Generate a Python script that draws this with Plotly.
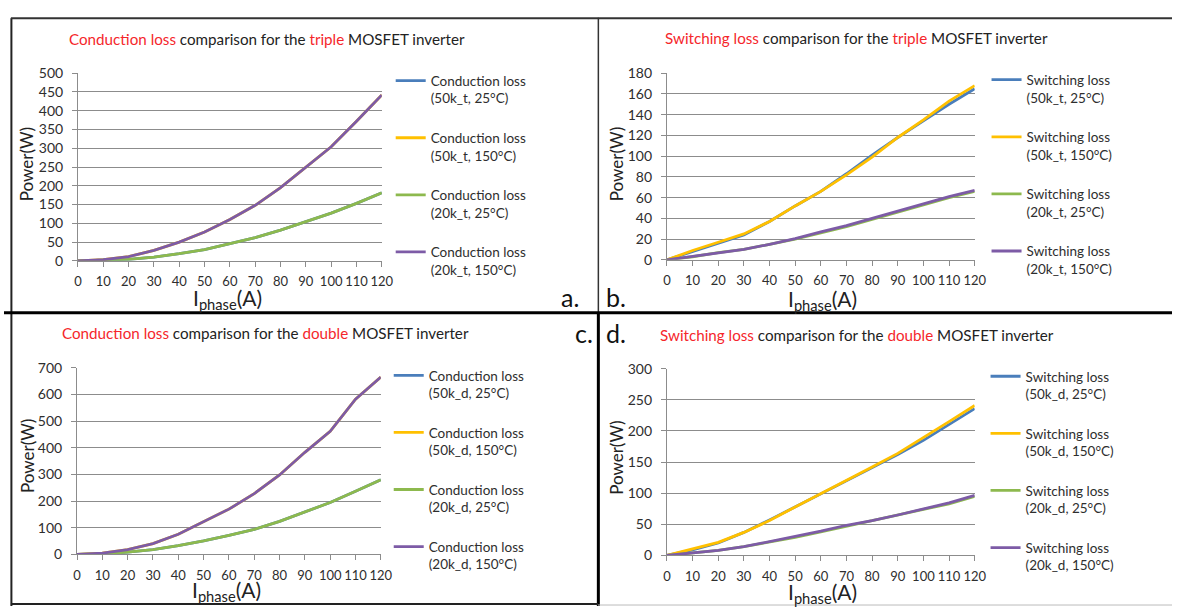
import plotly.graph_objects as go

# ---------------- data ----------------
I_PHASE = [0, 10, 20, 30, 40, 50, 60, 70, 80, 90, 100, 110, 120]

# a. conduction loss, triple MOSFET inverter
cond_t_50k_25 = [0, 1, 4, 10, 19, 30, 45, 62, 82, 104, 127, 153, 181]
cond_t_50k_150 = [0, 3, 11, 28, 50, 77, 110, 148, 195, 250, 304, 372, 442]
cond_t_20k_25 = [0, 1, 4, 10, 19, 30, 45, 62, 82, 104, 127, 153, 181]
cond_t_20k_150 = [0, 3, 11, 28, 50, 77, 110, 148, 195, 250, 304, 372, 442]

# b. switching loss, triple MOSFET inverter
sw_t_50k_25 = [0, 8, 16, 24, 37, 52, 66, 83, 101, 118, 134, 150, 165]
sw_t_50k_150 = [0, 9, 17, 25, 37, 52, 66, 82, 99, 118, 135, 153, 168]
sw_t_20k_25 = [0, 3, 7, 10, 15, 20, 26, 32, 39, 46, 53, 60, 66]
sw_t_20k_150 = [0, 3.5, 7, 10, 15, 20.5, 27, 33, 40, 47, 54, 61, 67]

# c. conduction loss, double MOSFET inverter
cond_d_50k_25 = [0, 2.5, 9, 18, 33, 51, 72, 94, 124, 159, 195, 237, 280]
cond_d_50k_150 = [0, 5, 18, 41, 76, 122, 170, 228, 298, 383, 462, 582, 665]
cond_d_20k_25 = [0, 2.5, 9, 18, 33, 51, 72, 94, 124, 159, 195, 237, 280]
cond_d_20k_150 = [0, 5, 18, 41, 76, 122, 170, 228, 298, 383, 462, 582, 665]

# d. switching loss, double MOSFET inverter
sw_d_50k_25 = [0, 9, 20, 37, 57, 78, 99, 120, 140, 162, 185, 211, 236]
sw_d_50k_150 = [0, 10, 21, 37, 56, 78, 99, 121, 142, 164, 189, 215, 241]
sw_d_20k_25 = [0, 4, 8, 14, 21, 29, 38, 47, 55, 64, 73, 83, 95]
sw_d_20k_150 = [0, 4, 8, 14, 22, 30, 39, 48.5, 56, 65, 74.5, 84.5, 96.5]

SERIES_COLORS = ["#4A7EBB", "#FFC000", "#8DB94E", "#7D5BA6"]

W, H = 1184, 614
FONT = "Lato"
TXT = "#2E2E2E"
RED = "#F5262B"


def px(x):
    return x / W


def py(y):
    return 1 - y / H


panels = [
    dict(name="Conduction loss", kind="triple", tag="t",
         data=[cond_t_50k_25, cond_t_50k_150, cond_t_20k_25, cond_t_20k_150],
         ymax=500, dtick=50, box=(75, 383, 66, 259), title_xy=(267, 31),
         ytitle_xy=(23, 160), xtitle_xy=(227, 298), leg_xy=(392, 58)),
    dict(name="Switching loss", kind="triple", tag="t",
         data=[sw_t_50k_25, sw_t_50k_150, sw_t_20k_25, sw_t_20k_150],
         ymax=180, dtick=20, box=(672, 984, 66, 258), title_xy=(864, 30),
         ytitle_xy=(621, 160), xtitle_xy=(830, 299), leg_xy=(996, 57)),
    dict(name="Conduction loss", kind="double", tag="d",
         data=[cond_d_50k_25, cond_d_50k_150, cond_d_20k_25, cond_d_20k_150],
         ymax=700, dtick=100, box=(74, 382, 369, 561), title_xy=(265, 333),
         ytitle_xy=(24, 460), xtitle_xy=(226, 599), leg_xy=(390, 361)),
    dict(name="Switching loss", kind="double", tag="d",
         data=[sw_d_50k_25, sw_d_50k_150, sw_d_20k_25, sw_d_20k_150],
         ymax=300, dtick=50, box=(672, 984, 370, 562), title_xy=(865, 335),
         ytitle_xy=(621, 462), xtitle_xy=(830, 601), leg_xy=(995, 362)),
]

LABELS = ["50k_{t}, 25°C", "50k_{t}, 150°C", "20k_{t}, 25°C", "20k_{t}, 150°C"]

fig = go.Figure()
layout = dict(
    width=W, height=H, margin=dict(l=0, r=0, t=0, b=0),
    paper_bgcolor="white", plot_bgcolor="white",
    font=dict(family=FONT, color=TXT),
    showlegend=True,
)
annotations = []

for i, p in enumerate(panels):
    n = "" if i == 0 else str(i + 1)
    xa, ya = "x" + n, "y" + n
    leg = "legend" + n
    x0, x1, yt, yb = p["box"]
    for j, vals in enumerate(p["data"]):
        lab = p["name"] + "<br>(" + LABELS[j].replace("{t}", p["tag"]) + ")"
        fig.add_trace(go.Scatter(
            x=I_PHASE, y=vals, mode="lines", name=lab,
            line=dict(color=SERIES_COLORS[j], width=2.8),
            xaxis=xa, yaxis=ya, legend=leg, legendgroup=f"g{i}_{j}",
            hoverinfo="skip",
        ))
    layout["xaxis" + n] = dict(
        domain=[px(x0), px(x1)], range=[0, 120], tick0=0, dtick=10,
        anchor=ya, showline=True, linecolor="#8C8C8C", linewidth=1,
        ticks="outside", ticklen=5, tickcolor="#8C8C8C", showgrid=False,
        zeroline=False, ticklabelstandoff=4,
        tickfont=dict(family=FONT, size=13, color=TXT), fixedrange=True,
    )
    layout["yaxis" + n] = dict(
        domain=[py(yb), py(yt)], range=[0, p["ymax"]], tick0=0, dtick=p["dtick"],
        anchor=xa, showline=True, linecolor="#8C8C8C", linewidth=1,
        ticks="outside", ticklen=5, tickcolor="#8C8C8C",
        showgrid=True, gridcolor="#8C8C8C", gridwidth=1,
        zeroline=False, ticklabelstandoff=6,
        tickfont=dict(family=FONT, size=14, color=TXT), fixedrange=True,
    )
    layout[leg] = dict(
        x=px(p["leg_xy"][0]), y=py(p["leg_xy"][1]), xanchor="left", yanchor="top",
        bgcolor="rgba(0,0,0,0)", borderwidth=0, valign="top",
        font=dict(family=FONT, size=13.5, color=TXT),
        tracegroupgap=19, itemwidth=30, traceorder="grouped",
        itemclick=False, itemdoubleclick=False,
    )
    tx, ty = p["title_xy"]
    annotations.append(dict(
        x=px(tx), y=py(ty), xref="paper", yref="paper", showarrow=False,
        xanchor="center", yanchor="middle",
        text=(f"<span style='color:{RED}'>{p['name']}</span> comparison for the "
              f"<span style='color:{RED}'>{p['kind']}</span> MOSFET inverter"),
        font=dict(family=FONT, size=15.2, color="#222222"),
    ))
    yx, yy = p["ytitle_xy"]
    annotations.append(dict(
        x=px(yx), y=py(yy), xref="paper", yref="paper", showarrow=False,
        xanchor="center", yanchor="middle", textangle=-90,
        text="Power(W)", font=dict(family=FONT, size=17, color="#222222"),
    ))
    xx, xy = p["xtitle_xy"]
    annotations.append(dict(
        x=px(xx), y=py(xy), xref="paper", yref="paper", showarrow=False,
        xanchor="center", yanchor="middle",
        text="I<sub>phase</sub>(A)", font=dict(family=FONT, size=21, color="#222222"),
    ))

# panel letters
for txt, (lx, ly) in zip(["a.", "b.", "c.", "d."],
                         [(574, 296), (620, 296), (588, 333), (620, 333)]):
    annotations.append(dict(
        x=px(lx), y=py(ly), xref="paper", yref="paper", showarrow=False,
        xanchor="center", yanchor="middle", text=txt,
        font=dict(family=FONT, size=25, color="#111111"),
    ))

layout["annotations"] = annotations


def line(xa, ya, xb, yb, w, c):
    return dict(type="line", xref="paper", yref="paper",
                x0=px(xa), y0=py(ya), x1=px(xb), y1=py(yb),
                line=dict(color=c, width=w))


layout["shapes"] = [
    line(7.5, 9.5, 7.5, 614, 2, "#222222"),
    line(7, 9.5, 1184, 9.5, 2, "#333333"),
    line(602.5, 9, 602.5, 312, 1.5, "#333333"),
    line(602.5, 312, 602.5, 614, 3, "#000000"),
    line(0, 312.5, 1184, 312.5, 3, "#000000"),
    line(7, 612, 602, 612, 2, "#222222"),
    line(602, 613, 1184, 613, 1, "#BBBBBB"),
]

fig.update_layout(**layout)
fig.write_html("out.html")
